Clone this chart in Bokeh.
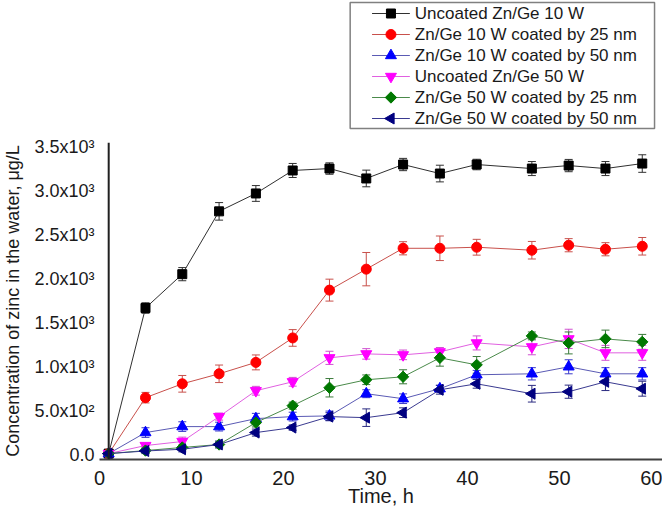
from bokeh.plotting import figure
from bokeh.layouts import column
from bokeh.models import Whisker, FixedTicker, Span, TeeHead, ColumnDataSource, Range1d
from bokeh.core.properties import value
from bokeh.embed import file_html
from bokeh.resources import INLINE
import math

time_h = [1, 5, 9, 13, 17, 21, 25, 29, 33, 37, 41, 47, 51, 55, 59]

uncoated_10w = [10, 1670, 2056, 2772, 2976, 3238, 3260, 3147, 3306, 3203, 3306, 3260, 3294, 3260, 3317]
uncoated_10w_err = [20, 60, 75, 100, 90, 80, 65, 95, 70, 95, 60, 80, 70, 80, 100]

coated25_10w = [10, 648, 806, 920, 1050, 1329, 1874, 2113, 2351, 2351, 2363, 2329, 2386, 2340, 2374]
coated25_10w_err = [20, 60, 95, 100, 85, 95, 125, 190, 75, 140, 90, 100, 75, 75, 100]

coated50_10w = [10, 250, 318, 318, 409, 432, 440, 693, 636, 750, 909, 920, 1000, 920, 920]
coated50_10w_err = [15, 55, 55, 50, 60, 50, 55, 45, 55, 40, 50, 70, 80, 70, 70]

uncoated_50w = [10, 102, 148, 432, 727, 829, 1102, 1147, 1136, 1170, 1272, 1227, 1318, 1159, 1159]
uncoated_50w_err = [15, 30, 50, 40, 50, 50, 75, 60, 55, 50, 80, 90, 110, 85, 85]

coated25_50w = [10, 45, 80, 114, 364, 557, 761, 852, 886, 1102, 1022, 1352, 1272, 1318, 1284]
coated25_50w_err = [15, 30, 30, 30, 50, 40, 105, 55, 80, 95, 95, 45, 125, 100, 85]

coated50_50w = [10, 40, 60, 114, 250, 307, 432, 420, 477, 738, 806, 693, 716, 829, 750]
coated50_50w_err = [15, 30, 30, 40, 40, 30, 45, 100, 55, 50, 50, 95, 75, 100, 85]

labels = ["Uncoated Zn/Ge 10 W", "Zn/Ge 10 W coated by 25 nm", "Zn/Ge 10 W coated by 50 nm",
          "Uncoated Zn/Ge 50 W", "Zn/Ge 50 W coated by 25 nm", "Zn/Ge 50 W coated by 50 nm"]

y_ticks = [0, 500, 1000, 1500, 2000, 2500, 3000, 3500]
y_tick_labels = ["0.0", "5.0x10\u00b2", "1.0x10\u00b3", "1.5x10\u00b3", "2.0x10\u00b3",
                 "2.5x10\u00b3", "3.0x10\u00b3", "3.5x10\u00b3"]
x_ticks = [0, 10, 20, 30, 40, 50, 60]

series = [
    (uncoated_10w, uncoated_10w_err, "square", "#000000", "#303030", "#303030", 9, 0),
    (coated25_10w, coated25_10w_err, "circle", "#ff0000", "#c8504b", "#c8504b", 10, 0),
    (coated50_10w, coated50_10w_err, "triangle", "#0000ff", "#5a5ab4", "#3a3ac8", 11, 0),
    (uncoated_50w, uncoated_50w_err, "inverted_triangle", "#ff00ff", "#e060e0", "#d050d0", 11, 0),
    (coated25_50w, coated25_50w_err, "square", "#007800", "#4a8a4a", "#3a7a3a", 8, math.pi / 4),
    (coated50_50w, coated50_50w_err, "triangle", "#000080", "#3a3a90", "#2a2a80", 11, math.pi / 2),
]

FONT = "Liberation Sans"
W = 662
LEFT = 96
LEG_H = 134
MAIN_H = 509 - LEG_H

# ---- legend strip above the plot (its frame is aligned with the main frame: x = page px) ----
lf = figure(width=W, height=LEG_H, output_backend="svg", toolbar_location=None,
            x_range=Range1d(LEFT, W), y_range=Range1d(0, LEG_H),
            x_axis_location=None, y_axis_location=None,
            min_border_left=LEFT, min_border_right=0, min_border_top=0, min_border_bottom=0)
lf.grid.visible = False
lf.outline_line_color = None

box_l, box_r, box_t, box_b = 348, 654, 2, 128
row0, row_step = 13, 21
line_x0, line_x1, mark_x, text_x = 370, 408, 389, 413

lf.quad(left=[box_l], right=[box_r], top=[LEG_H - box_t], bottom=[LEG_H - box_b],
        fill_color="white", line_color="#808080", line_width=1.5)
row_y = [LEG_H - (row0 + row_step * i) for i in range(len(labels))]
for (vals, errs, marker, fill, line_c, err_c, size, ang), ry in zip(series, row_y):
    lf.segment(x0=[line_x0], y0=[ry], x1=[line_x1], y1=[ry], line_color=line_c, line_width=1)
    lf.scatter(x=[mark_x], y=[ry], marker=marker, size=size, fill_color=fill,
               line_color=fill, angle=ang)
lf.text(x=[text_x] * len(labels), y=row_y, text=labels, text_baseline="middle", text_align="left",
        text_font=value(FONT), text_font_size=value("17px"), text_color="#1a1a1a")

# ---- main plot ----
p = figure(width=W, height=MAIN_H, output_backend="svg", toolbar_location=None,
           x_range=Range1d(0, 61.2), y_range=Range1d(-57, 3557),
           min_border_left=LEFT, min_border_right=0, min_border_top=8, min_border_bottom=49)
p.grid.visible = False
p.outline_line_color = None

p.xaxis.ticker = FixedTicker(ticks=x_ticks)
p.yaxis.ticker = FixedTicker(ticks=y_ticks)
p.yaxis.major_label_overrides = {t: s for t, s in zip(y_ticks, y_tick_labels)}
for ax in (p.xaxis[0], p.yaxis[0]):
    ax.major_tick_line_color = None
    ax.minor_tick_line_color = None
    ax.major_tick_out = 0
    ax.major_tick_in = 0
    ax.major_label_text_font = FONT
    ax.axis_label_text_font = FONT
    ax.axis_label_text_font_style = "normal"
    ax.major_label_text_color = "#1a1a1a"
    ax.axis_label_text_color = "#1a1a1a"

p.xaxis.axis_line_color = "#404040"
p.xaxis.axis_line_width = 2
p.xaxis.major_label_text_font_size = "20px"
p.xaxis.major_label_standoff = 11
p.xaxis.axis_label = "Time, h"
p.xaxis.axis_label_text_font_size = "20px"
p.xaxis.axis_label_standoff = -3

p.yaxis.axis_line_color = None
p.yaxis.major_label_text_font_size = "18px"
p.yaxis.major_label_standoff = 5
p.yaxis.axis_label = "Concentration of zinc in the water, \u03bcg/L"
p.yaxis.axis_label_text_font_size = "18px"
p.yaxis.axis_label_standoff = 8

p.add_layout(Span(location=time_h[0], dimension="height", line_color="#202020", line_width=2))

for (vals, errs, marker, fill, line_c, err_c, size, ang) in series:
    src = ColumnDataSource(dict(x=time_h, y=vals,
                                lo=[v - e for v, e in zip(vals, errs)],
                                hi=[v + e for v, e in zip(vals, errs)]))
    w = Whisker(source=src, base="x", lower="lo", upper="hi", line_color=err_c, line_width=1,
                lower_head=TeeHead(size=8, line_color=err_c, line_width=1),
                upper_head=TeeHead(size=8, line_color=err_c, line_width=1))
    p.add_layout(w)
    p.line("x", "y", source=src, line_color=line_c, line_width=1)
    p.scatter("x", "y", source=src, marker=marker, size=size, fill_color=fill,
              line_color=fill, angle=ang)

layout = column(lf, p, spacing=0)
open("out.html", "w").write(file_html(layout, INLINE))
